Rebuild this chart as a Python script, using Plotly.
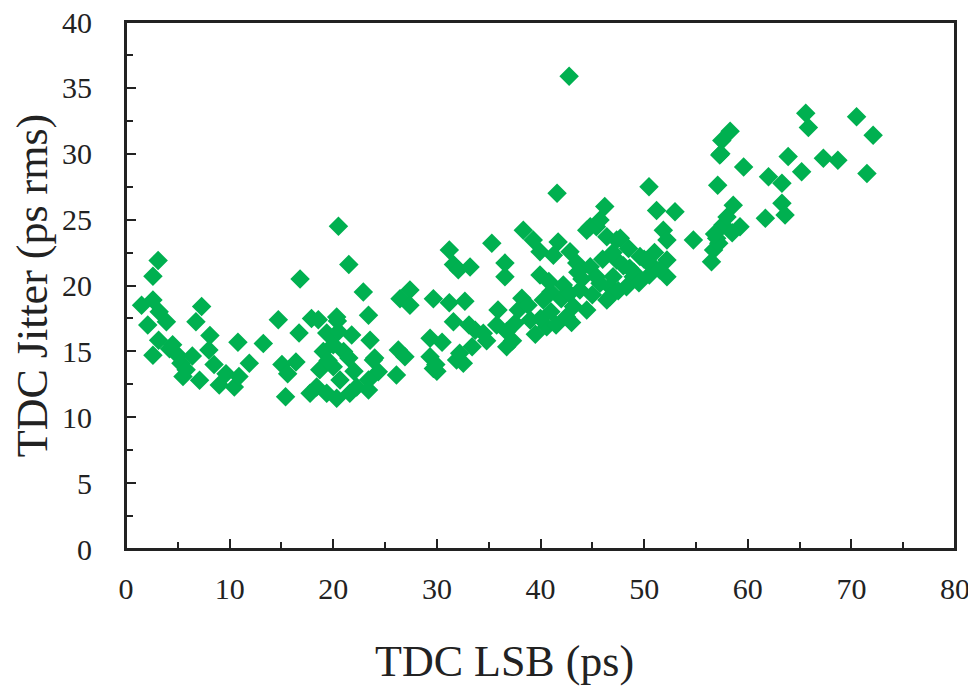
import plotly.graph_objects as go

# TDC LSB (ps)
lsb = [
    1.5, 2.1, 2.6, 2.6, 3.1, 3.2, 3.9, 2.6, 3.15, 4.5, 5.0, 5.3, 5.5, 6.4, 6.75, 7.3, 7.1, 8.1, 8.0, 8.5,
    9.0, 9.65, 10.45, 10.8, 10.9, 11.9, 13.25, 14.7, 15.05, 15.6, 15.4, 16.4, 16.7, 16.8, 4.2, 5.8,
    17.9, 18.56, 20.33, 19.37, 21.78, 23.55, 20.0, 19.04, 23.87, 24.35, 23.4, 18.7, 20.0, 20.65, 18.4,
    19.37, 21.6, 22.26, 20.33, 17.76, 23.4, 22.9, 23.4, 20.5, 21.5, 20.5, 19.5, 21.0, 22.0, 21.5, 20.4,
    27.4, 26.44, 27.4, 29.66, 31.2, 32.7, 31.6, 26.28, 26.92, 29.34, 30.5, 29.34, 29.66, 31.9, 32.55,
    33.7, 33.4, 26.1, 31.2, 31.6, 32.07, 33.2, 33.1, 32.2, 30.0, 24.0, 29.9,
    35.3, 36.57, 36.57, 39.95, 38.34, 39.3, 39.95, 41.7, 41.24, 42.85, 43.5, 35.9, 38.2, 37.86, 40.27,
    42.2, 34.48, 35.77, 36.74, 37.54, 39.0, 40.6, 36.74, 43.17, 43.8, 42.5, 44.46, 41.6, 42.76, 44.46,
    44.8, 44.8, 40.0, 41.0, 41.5, 42.0, 43.0, 44.0, 41.0, 38.8, 39.5, 37.3, 34.8, 40.8, 42.8, 43.6,
    46.2, 45.4, 46.4, 47.35, 45.4, 46.7, 46.4, 50.47, 51.2, 52.98, 47.7, 51.85, 52.2, 45.74, 52.2, 52.2,
    50.9, 49.6, 48.95, 47.35, 47.0, 48.3, 46.7, 45.74, 54.75, 48.0, 49.0, 50.0, 51.0, 49.5, 47.5, 48.5,
    50.5, 51.5, 46.0, 47.0, 45.0, 48.6, 50.2,
    57.3, 59.6, 57.1, 58.6, 57.6, 59.25, 57.0, 56.7, 56.5, 61.7, 63.3, 63.6, 62.0, 63.3, 63.9, 65.2,
    65.6, 65.85, 70.5, 72.1, 71.5, 67.3, 68.7, 58.3, 57.5, 57.2, 58.5, 56.8, 58.0, 57.4,
]

# TDC Jitter (ps rms)
jitter = [
    18.5, 17.0, 18.9, 20.7, 21.9, 18.0, 17.25, 14.7, 15.85, 15.5, 14.7, 14.1, 13.1, 14.65, 17.25, 18.4, 12.8, 16.2, 15.1, 14.0,
    12.45, 13.3, 12.3, 15.7, 13.1, 14.1, 15.6, 17.4, 14.0, 13.3, 11.55, 14.2, 16.4, 20.5, 15.2, 13.6,
    17.5, 17.4, 17.6, 16.4, 16.25, 15.85, 15.5, 15.0, 14.35, 13.46, 12.83, 13.6, 13.84, 12.83, 12.3,
    11.82, 11.82, 12.3, 11.44, 11.82, 12.07, 19.5, 17.75, 24.5, 21.6, 16.5, 14.3, 15.0, 13.5, 14.5, 17.3,
    19.66, 19.0, 18.5, 19.0, 18.7, 18.8, 17.25, 15.1, 14.6, 16.0, 15.7, 14.6, 13.7, 14.35, 14.1,
    16.6, 15.36, 13.2, 22.7, 21.6, 21.2, 21.4, 17.0, 14.85, 13.5, 14.5, 14.0,
    23.2, 21.7, 20.67, 20.8, 24.2, 23.45, 22.57, 23.3, 22.3, 22.57, 21.7, 18.14, 19.03, 18.14, 18.9,
    20.04, 16.37, 17.0, 16.5, 17.13, 17.38, 16.87, 15.36, 18.4, 19.66, 17.63, 18.14, 27.0, 35.88, 24.2,
    21.43, 24.46, 17.5, 18.0, 17.0, 19.0, 17.2, 20.5, 19.5, 18.5, 16.3, 15.8, 15.8, 20.3, 19.4, 21.0,
    26.0, 24.46, 23.7, 23.45, 20.67, 19.9, 18.9, 27.5, 25.7, 25.6, 23.58, 24.2, 23.45, 24.97, 21.93, 20.67,
    21.43, 22.2, 20.67, 21.93, 20.67, 19.9, 19.15, 20.17, 23.45, 21.5, 21.0, 22.0, 22.5, 20.2, 19.6, 22.8,
    20.8, 21.2, 22.0, 22.5, 19.3, 21.3, 21.9,
    29.9, 29.0, 27.6, 26.1, 24.6, 24.46, 23.58, 22.7, 21.8, 25.1, 26.24, 25.35, 28.26, 27.76, 29.8, 28.64,
    33.07, 32.0, 32.8, 31.4, 28.5, 29.65, 29.5, 31.7, 31.0, 23.2, 24.0, 23.9, 25.2, 30.0,
]

x_ticks = [0, 10, 20, 30, 40, 50, 60, 70, 80]
y_ticks = [0, 5, 10, 15, 20, 25, 30, 35, 40]

x_title = "TDC LSB (ps)"
y_title = "TDC Jitter (ps rms)"

FONT = "Liberation Serif"
INK = "#222222"

fig = go.Figure(
    go.Scatter(
        x=lsb,
        y=jitter,
        mode="markers",
        marker=dict(symbol="diamond", size=15, color="#00B050", line=dict(width=0)),
        showlegend=False,
        cliponaxis=False,
    )
)

axis_common = dict(
    showgrid=False,
    zeroline=False,
    showline=True,
    linecolor=INK,
    linewidth=2,
    mirror=True,
    ticks="inside",
    ticklen=10,
    tickwidth=1.5,
    tickcolor=INK,
    automargin=False,
    ticklabeloverflow="allow",
    tickfont=dict(family=FONT, size=30, color=INK),
)

# the page body adds an 8px offset, so margins are shifted to land the
# plot box at x 126-955, y 22-549 in the 976x690 window
fig.update_layout(
    width=976,
    height=690,
    margin=dict(l=118, r=29, t=14, b=149),
    paper_bgcolor="white",
    plot_bgcolor="white",
    font=dict(family=FONT, color=INK),
    xaxis=dict(
        **axis_common,
        range=[0, 80],
        tickvals=x_ticks,
        ticktext=[str(v) for v in x_ticks],
        ticklabelstandoff=12,
        minor=dict(ticks="inside", ticklen=7, dtick=5, tickcolor=INK, tickwidth=1.5),
    ),
    yaxis=dict(
        **axis_common,
        range=[0, 40],
        tickvals=y_ticks,
        ticktext=[str(v) for v in y_ticks],
        ticklabelstandoff=26,
        minor=dict(ticks="inside", ticklen=7, dtick=2.5, tickcolor=INK, tickwidth=1.5),
        title=dict(text=y_title, font=dict(family=FONT, size=44, color=INK), standoff=4),
    ),
    shapes=[
        dict(
            type="rect", xref="paper", yref="paper", x0=0, x1=1, y0=0, y1=1,
            line=dict(color=INK, width=2), fillcolor="rgba(0,0,0,0)", layer="above",
        )
    ],
    annotations=[
        dict(
            text=x_title,
            xref="paper",
            yref="paper",
            x=0.457,
            y=-0.214,
            xanchor="center",
            yanchor="middle",
            showarrow=False,
            font=dict(family=FONT, size=44, color=INK),
        )
    ],
)

fig.write_html("out.html")
